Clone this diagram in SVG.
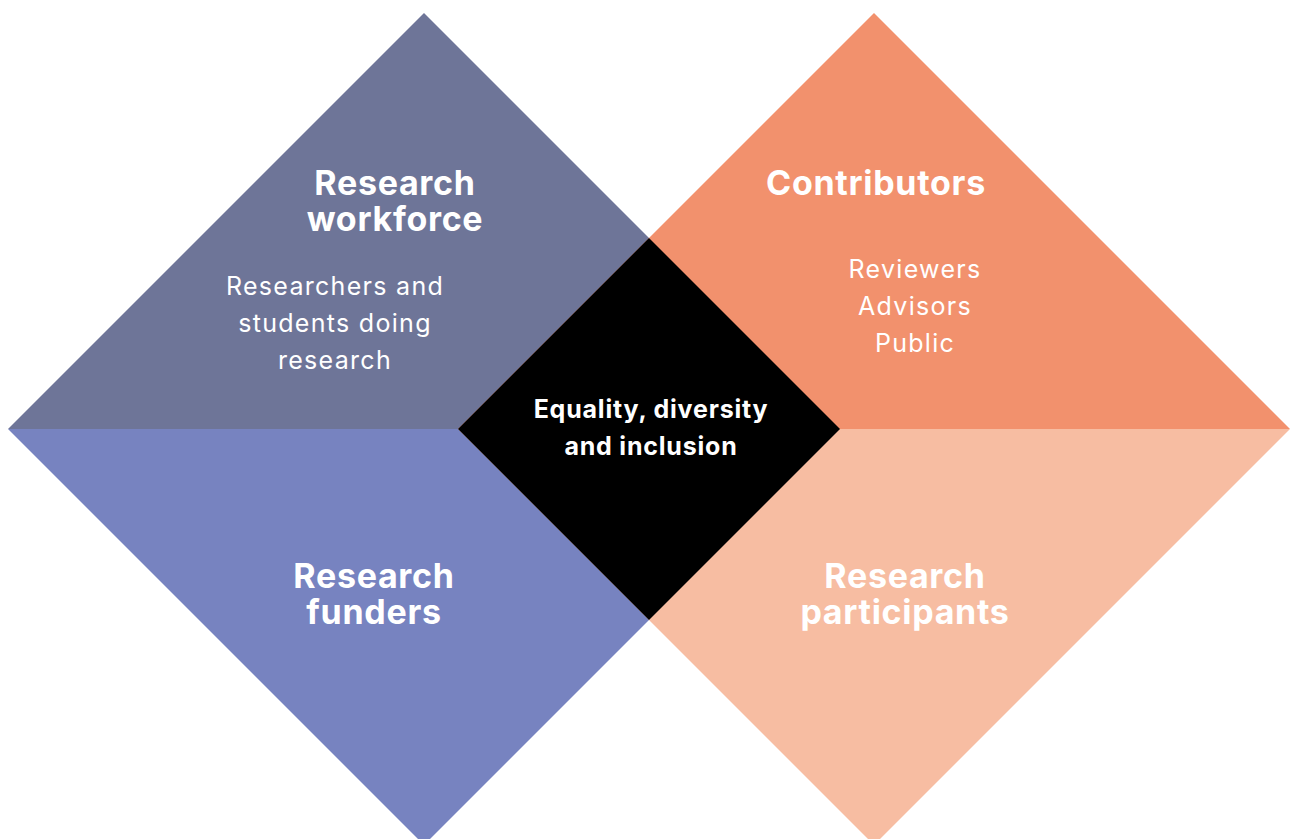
<svg xmlns="http://www.w3.org/2000/svg" width="1290" height="839" viewBox="0 0 1290 839">
<style>
text{font-family:Inter,"Noto Sans",sans-serif;fill:#fff;text-anchor:middle}
.t{font-size:34px;font-weight:700;letter-spacing:0.7px}
.s{font-size:25px;font-weight:400;letter-spacing:1.3px}
.c{font-size:25px;font-weight:700;letter-spacing:0.8px}
</style>
<rect width="1290" height="839" fill="#fff"/>
<g id="workforce">
<polygon points="424,13 840,429 8,429" fill="#6E7598"/>
<text class="t" x="395" y="195">Research</text>
<text class="t" x="395" y="231">workforce</text>
<text class="s" x="335" y="295">Researchers and</text>
<text class="s" x="335" y="332">students doing</text>
<text class="s" x="335" y="369">research</text>
</g>
<g id="funders">
<polygon points="8,429 840,429 424,845" fill="#7783C0"/>
<text class="t" x="374" y="588">Research</text>
<text class="t" x="374" y="624">funders</text>
</g>
<g id="contributors">
<polygon points="874,13 1290,429 458,429" fill="#F2916D"/>
<text class="t" x="876" y="195">Contributors</text>
<text class="s" x="915" y="278">Reviewers</text>
<text class="s" x="915" y="315">Advisors</text>
<text class="s" x="915" y="352">Public</text>
</g>
<g id="participants">
<polygon points="458,429 1290,429 874,845" fill="#F7BDA2"/>
<text class="t" x="905" y="588">Research</text>
<text class="t" x="905" y="624">participants</text>
</g>
<g id="edi">
<polygon points="649,238 840,429 649,620 458,429" fill="#000"/>
<text class="c" x="651" y="418">Equality, diversity</text>
<text class="c" x="651" y="455">and inclusion</text>
</g>
<g id="connectors"/>
</svg>
